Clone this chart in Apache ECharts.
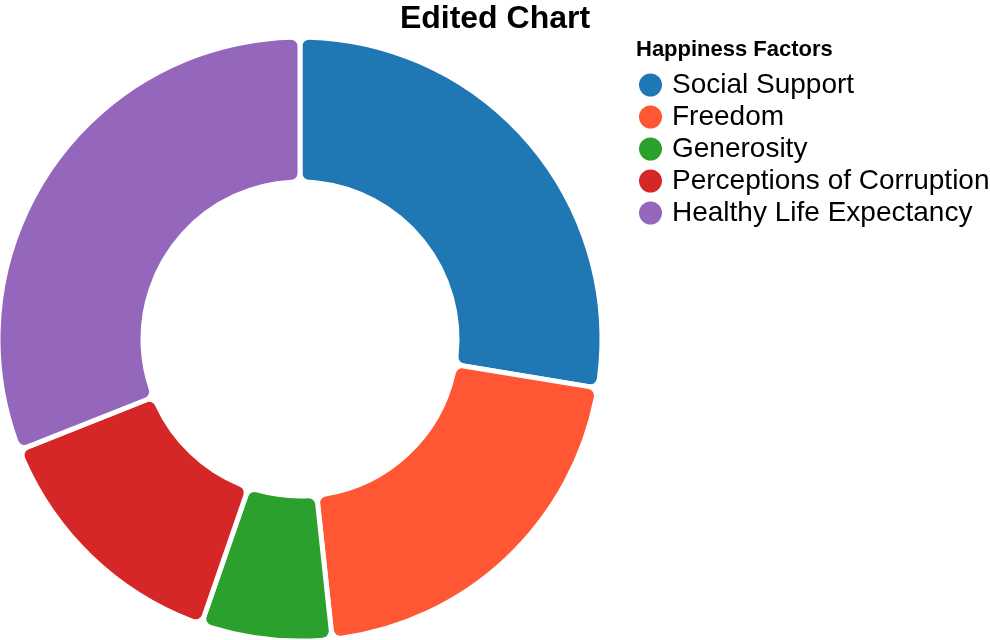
<!DOCTYPE html>
<html>
<head>
<meta charset="utf-8">
<script src="https://cdn.jsdelivr.net/npm/echarts@6/dist/echarts.min.js"></script>
<style>
  html, body { margin: 0; padding: 0; background: #fff; }
  #chart { width: 990px; height: 640px; }
</style>
</head>
<body>
<div id="chart"></div>
<script>
// happiness factor shares (percent of the ring)
var factors = ['Social Support', 'Freedom', 'Generosity', 'Perceptions of Corruption', 'Healthy Life Expectancy']
var shares = [27.6, 20.7, 7.0, 13.7, 31.0]
var colors = ['#1f77b4', '#ff5733', '#2ca02c', '#d62728', '#9467bd']

var chart = echarts.init(document.getElementById('chart'))
var font = '"Liberation Sans", Arial, sans-serif'

chart.setOption({
  animation: false,
  title: [{
    text: 'Edited Chart',
    left: 'center',
    top: -2,
    textStyle: { fontFamily: font, fontSize: 32, fontWeight: 'bold', color: '#000' }
  }, {
    text: 'Happiness Factors',
    left: 636,
    top: 39,
    padding: 0,
    textStyle: { fontFamily: font, fontSize: 22, fontWeight: 'bold', color: '#000' }
  }],
  legend: {
    orient: 'vertical',
    left: 637,
    top: 71,
    padding: 0,
    icon: 'circle',
    itemWidth: 25,
    itemHeight: 25,
    itemGap: 4,
    data: factors,
    textStyle: { fontFamily: font, fontSize: 28, color: '#000', padding: [0, 0, 0, 4] }
  },
  series: [{
    type: 'pie',
    center: [300, 339],
    radius: [157, 302],
    startAngle: 90,
    clockwise: true,
    label: { show: false },
    labelLine: { show: false },
    itemStyle: { borderColor: '#fff', borderWidth: 5, borderRadius: 9 },
    emphasis: { disabled: true },
    data: factors.map(function (name, i) {
      return { name: name, value: shares[i], itemStyle: { color: colors[i] } }
    })
  }]
})
</script>
</body>
</html>
